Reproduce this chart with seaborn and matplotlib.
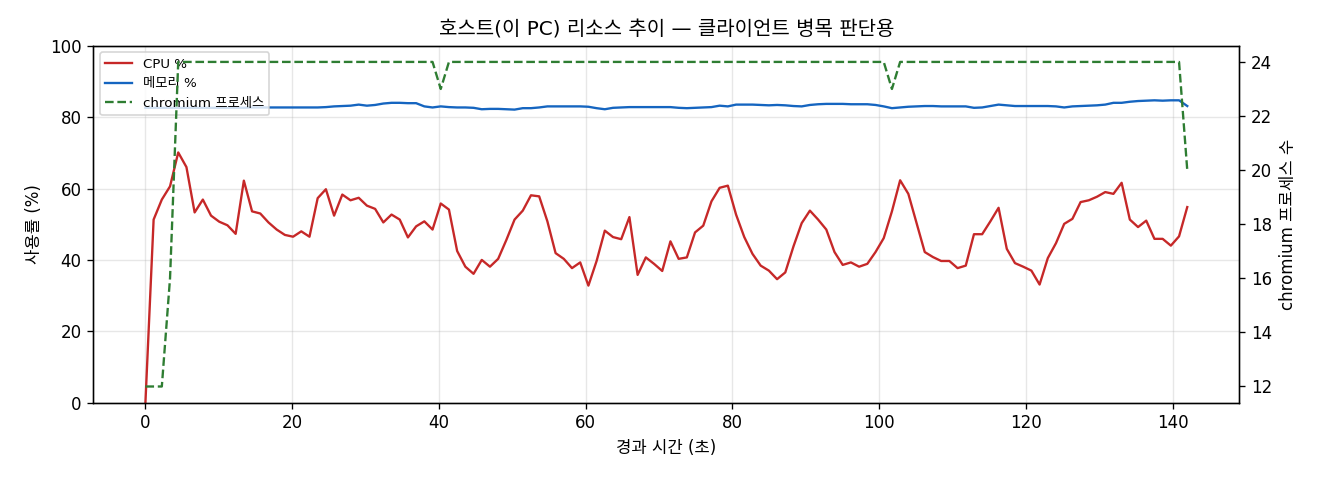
import numpy as np
import matplotlib
matplotlib.use("Agg")
import matplotlib.pyplot as plt
import seaborn as sns

# Sampling: one sample roughly every 1.12 s, 128 samples
SAMPLE_SEC = 142.0 / 127

cpu_pct = [
    0.0, 51.3, 56.9, 60.6, 70.1, 66.0, 53.3, 56.9, 52.4, 50.7,
    49.7, 47.3, 62.2, 53.6, 53.0, 50.5, 48.5, 47.0, 46.5, 48.0,
    46.5, 57.3, 59.8, 52.4, 58.3, 56.7, 57.4, 55.2, 54.3, 50.5,
    52.7, 51.3, 46.3, 49.4, 50.8, 48.5, 55.8, 54.1, 42.5, 38.1,
    36.1, 40.0, 38.1, 40.3, 45.6, 51.3, 53.8, 58.1, 57.8, 50.8,
    41.9, 40.3, 37.7, 39.3, 32.8, 39.7, 48.2, 46.4, 45.8, 52.0,
    35.8, 40.7, 38.9, 36.9, 45.2, 40.3, 40.7, 47.7, 49.6, 56.4,
    60.2, 60.8, 52.7, 46.4, 41.7, 38.4, 37.0, 34.6, 36.5, 43.8,
    50.3, 53.8, 51.3, 48.5, 42.2, 38.6, 39.3, 38.1, 38.9, 42.2,
    46.1, 53.6, 62.3, 58.5, 50.3, 42.2, 40.8, 39.7, 39.7, 37.7,
    38.4, 47.2, 47.2, 50.8, 54.6, 43.1, 39.1, 38.1, 37.0, 33.1,
    40.5, 44.7, 50.1, 51.5, 56.2, 56.7, 57.7, 59.0, 58.5, 61.6,
    51.3, 49.2, 51.0, 45.9, 45.9, 44.0, 46.6, 54.8,
]

mem_pct = [
    82.6, 82.6, 82.6, 82.6, 82.6, 82.6, 82.6, 82.6, 82.6, 82.6,
    82.6, 82.6, 82.6, 82.7, 82.7, 82.7, 82.7, 82.7, 82.7, 82.7,
    82.7, 82.7, 82.8, 83.0, 83.1, 83.2, 83.5, 83.2, 83.4, 83.8,
    84.0, 84.0, 83.9, 83.9, 83.0, 82.7, 83.0, 82.8, 82.7, 82.7,
    82.6, 82.2, 82.3, 82.3, 82.2, 82.1, 82.5, 82.5, 82.7, 83.0,
    83.0, 83.0, 83.0, 83.0, 82.9, 82.5, 82.2, 82.6, 82.7, 82.8,
    82.8, 82.8, 82.8, 82.8, 82.8, 82.6, 82.5, 82.6, 82.7, 82.8,
    83.2, 83.0, 83.5, 83.5, 83.5, 83.4, 83.3, 83.4, 83.3, 83.1,
    83.0, 83.4, 83.6, 83.7, 83.7, 83.7, 83.6, 83.6, 83.6, 83.4,
    83.0, 82.5, 82.7, 82.9, 83.0, 83.1, 83.1, 83.0, 83.0, 83.0,
    83.0, 82.6, 82.7, 83.1, 83.5, 83.3, 83.1, 83.1, 83.1, 83.1,
    83.1, 83.0, 82.7, 83.0, 83.1, 83.2, 83.3, 83.5, 84.0, 84.0,
    84.3, 84.5, 84.6, 84.7, 84.6, 84.7, 84.7, 83.1,
]

chromium_procs = (
    [12, 12, 12, 16]
    + [24] * 32 + [23]
    + [24] * 54 + [23]
    + [24] * 35 + [20]
)

elapsed = np.arange(len(cpu_pct)) * SAMPLE_SEC

# Latin/digits in DejaVu, Hangul falls back to Noto CJK
plt.rcParams['font.family'] = ['DejaVu Sans', 'Noto Sans CJK KR']
plt.rcParams['axes.unicode_minus'] = False

fig, ax = plt.subplots(figsize=(11, 4), dpi=120)
fig.subplots_adjust(left=0.0707, right=0.9389, top=0.9048, bottom=0.161)

sns.lineplot(x=elapsed, y=cpu_pct, ax=ax, color='#c62828', linewidth=1.4, label='CPU %')
sns.lineplot(x=elapsed, y=mem_pct, ax=ax, color='#1565c0', linewidth=1.4, label='메모리 %')
ax.set_ylim(0, 100)
ax.set_xlabel('경과 시간 (초)')
ax.set_ylabel('사용률 (%)')
ax.grid(True, alpha=0.3)

ax2 = ax.twinx()
sns.lineplot(x=elapsed, y=chromium_procs, ax=ax2, color='#2e7d32', linewidth=1.4,
             linestyle='--', label='chromium 프로세스')
ax2.set_ylabel('chromium 프로세스 수')

# Merge legends of both axes
h1, l1 = ax.get_legend_handles_labels()
h2, l2 = ax2.get_legend_handles_labels()
ax2.get_legend().remove()
ax.legend(h1 + h2, l1 + l2, loc='upper left', fontsize=8)

ax.set_title('호스트(이 PC) 리소스 추이 — 클라이언트 병목 판단용')

fig.savefig('out.png', dpi=120)
